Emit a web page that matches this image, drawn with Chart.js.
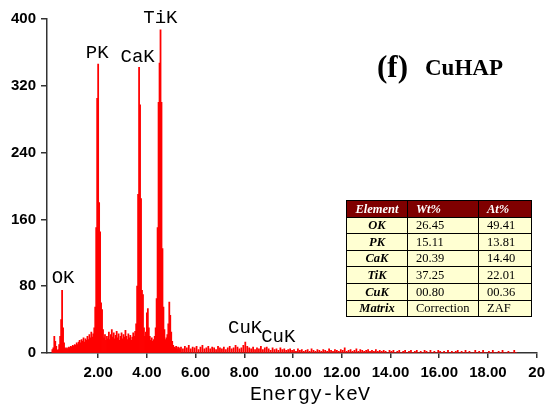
<!DOCTYPE html>
<html>
<head>
<meta charset="utf-8">
<script src="https://cdn.jsdelivr.net/npm/chart.js@4.4.1/dist/chart.umd.min.js"></script>
<style>
  body { margin: 0; background: #fff; }
  .wrap { position: relative; width: 551px; height: 411px; overflow: hidden; }
  #edsChart { position: absolute; left: 0; top: 0; }
  table.comp {
    position: absolute; left: 346px; top: 200px;
    border-collapse: collapse; border: 1.5px solid #000;
    font-family: "Liberation Serif", serif; font-size: 12.5px; line-height: 1;
  }
  table.comp td { border: 1px solid #000; padding: 0; height: 15.6px; background: #ffffd2; color: #000; }
  table.comp td.el { width: 60px; text-align: center; font-weight: bold; font-style: italic; }
  table.comp td.num { text-align: left; padding-left: 8px; }
  table.comp td.wt { width: 62px; }
  table.comp td.at { width: 44px; }
  table.comp tr.head td { background: #7f0000; color: #fff; font-weight: bold; font-style: italic; }
</style>
</head>
<body>
<div class="wrap">
  <canvas id="edsChart" width="551" height="411"></canvas>
  <table class="comp" id="compTable"></table>
</div>
<script>
// spectrum: counts per channel, 0.04 keV channels from 0.12 keV
const lowStart = 0.12;
const lowStep = 0.04;
const lowCounts = [
  4, 6, 20, 14, 8, 3, 4, 10, 20, 40,
  75, 30, 12, 6, 5, 6, 5, 7, 6, 8,
  7, 9, 8, 10, 9, 12, 10, 13, 15, 12,
  16, 14, 18, 13, 17, 15, 20, 16, 22, 18,
  25, 19, 23, 30, 55, 150, 305, 346, 180, 145,
  60, 52, 28, 18, 22, 15, 20, 17, 25, 16,
  22, 28, 19, 24, 17, 21, 26, 18, 23, 15,
  20, 24, 17, 22, 19, 27, 20, 16, 23, 18,
  21, 15, 19, 24, 20, 26, 35, 80, 190, 342,
  297, 185, 75, 70, 30, 20, 25, 48, 53, 30,
  20, 15, 18, 14, 16, 20, 30, 65, 150, 300,
  347, 387, 300, 125, 55, 28, 16, 18, 22, 35,
  61, 45, 25, 14, 9, 7, 6, 8, 5, 7,
  6, 4
];

// high energy tail, 0.08 keV channels from 5.40 keV
const highStart = 5.40;
const highStep = 0.08;
const highCounts = [
  7, 5, 8, 6, 9, 5, 7, 6,
  8, 4, 7, 9, 5, 6, 8, 5,
  7, 6, 4, 8, 6, 5, 7, 4,
  6, 8, 5, 6, 9, 7, 5, 6,
  9, 13, 8, 6, 5, 7, 4, 6,
  5, 8, 4, 6, 7, 5, 3, 6,
  4, 5, 3, 6, 4, 5, 3, 4,
  5, 3, 4, 2, 5, 3, 4, 2,
  3, 4, 2, 5, 3, 2, 4, 3,
  2, 4, 3, 2, 5, 3, 2, 4,
  3, 2, 4, 3, 6, 2, 3, 4,
  2, 3, 5, 2, 4, 3, 2, 3,
  4, 2, 3, 2, 4, 2, 3, 2,
  3, 2, 0, 3, 2, 3, 0, 2,
  3, 0, 2, 3, 0, 2, 3, 0,
  2, 3, 0, 2, 0, 3, 2, 0,
  3, 0, 2, 0, 3, 2, 0, 2,
  0, 3, 0, 2, 0, 2, 3, 0,
  2, 0, 3, 0, 2, 0, 0, 3,
  0, 2, 0, 3, 0, 0, 2, 0,
  3, 0, 0, 2, 0, 3, 0, 0,
  2, 0, 0, 3, 0
];

const xTickValues = [2, 4, 6, 8, 10, 12, 14, 16, 18, 20];
const yTickValues = [0, 80, 160, 240, 320, 400];

// composition table
const elements = ['OK', 'PK', 'CaK', 'TiK', 'CuK', 'Matrix'];
const wtPercent = ['26.45', '15.11', '20.39', '37.25', '00.80', 'Correction'];
const atPercent = ['49.41', '13.81', '14.40', '22.01', '00.36', 'ZAF'];

// build points (channel -> energy)
const spectrum = [];
lowCounts.forEach((c, i) => spectrum.push({ x: +(lowStart + i * lowStep).toFixed(2), y: c }));
highCounts.forEach((c, i) => spectrum.push({ x: +(highStart + i * highStep).toFixed(2), y: c }));

// table
const table = document.getElementById('compTable');
let html = '<tr class="head"><td class="el">Element</td><td class="num wt">Wt%</td><td class="num at">At%</td></tr>';
elements.forEach((el, i) => {
  html += '<tr><td class="el">' + el + '</td><td class="num wt">' + wtPercent[i] + '</td><td class="num at">' + atPercent[i] + '</td></tr>';
});
table.innerHTML = html;

// peak labels + figure title
const labelPlugin = {
  id: 'peakLabels',
  afterDraw(chart) {
    const c = chart.ctx;
    const xs = chart.scales.x;
    const ys = chart.scales.y;
    const tags = [
      { t: 'OK', e: 0.09, n: 84 },
      { t: 'PK', e: 1.49, n: 353 },
      { t: 'CaK', e: 2.92, n: 349 },
      { t: 'TiK', e: 3.85, n: 395 },
      { t: 'CuK', e: 7.33, n: 23.6 },
      { t: 'CuK', e: 8.69, n: 13.5 }
    ];
    c.save();
    c.fillStyle = '#000';
    c.textAlign = 'left';
    c.textBaseline = 'alphabetic';
    c.font = '19px "Liberation Mono", monospace';
    tags.forEach(tag => {
      c.fillText(tag.t, xs.getPixelForValue(tag.e), ys.getPixelForValue(tag.n));
    });

    // axis title
    c.font = '20px "Liberation Mono", monospace';
    c.textAlign = 'center';
    c.fillText('Energy-keV', 310, 400);

    // panel title
    c.textAlign = 'left';
    c.font = 'bold 31px "Liberation Serif", serif';
    c.fillText('(f)', 377, 77);
    c.font = 'bold 23px "Liberation Serif", serif';
    c.fillText('CuHAP', 425, 75);
    c.restore();
  }
};

const ctx = document.getElementById('edsChart').getContext('2d');
new Chart(ctx, {
  type: 'bar',
  data: {
    datasets: [{
      data: spectrum,
      backgroundColor: '#ff0000',
      borderWidth: 0,
      barPercentage: 1,
      categoryPercentage: 1,
      inflateAmount: 0.4
    }]
  },
  options: {
    responsive: false,
    animation: false,
    layout: { padding: { top: 19, right: 11, left: 0, bottom: 0 } },
    plugins: {
      legend: { display: false },
      tooltip: { enabled: false }
    },
    scales: {
      x: {
        type: 'linear',
        min: -0.1,
        max: 20,
        offset: false,
        afterBuildTicks: (scale) => { scale.ticks = xTickValues.map(v => ({ value: v })); },
        afterFit: (scale) => { scale.height = 58; },
        grid: { offset: false, drawOnChartArea: false, tickLength: 5, color: '#333', lineWidth: 1.5 },
        border: { color: '#333', width: 1.5 },
        ticks: {
          color: '#000',
          padding: 6,
          maxRotation: 0,
          autoSkip: false,
          font: { family: 'Liberation Sans', size: 15, weight: 'bold' },
          callback: (v) => v === 20 ? '20' : v.toFixed(2)
        }
      },
      y: {
        min: 0,
        max: 400,
        afterBuildTicks: (scale) => { scale.ticks = yTickValues.map(v => ({ value: v })); },
        afterFit: (scale) => { scale.width = 47; },
        grid: { drawOnChartArea: false, tickLength: 6, color: '#333', lineWidth: 1.5 },
        border: { color: '#333', width: 1.5 },
        ticks: {
          color: '#000',
          padding: 5,
          font: { family: 'Liberation Sans', size: 15, weight: 'bold' }
        }
      }
    }
  },
  plugins: [labelPlugin]
});
</script>
</body>
</html>
